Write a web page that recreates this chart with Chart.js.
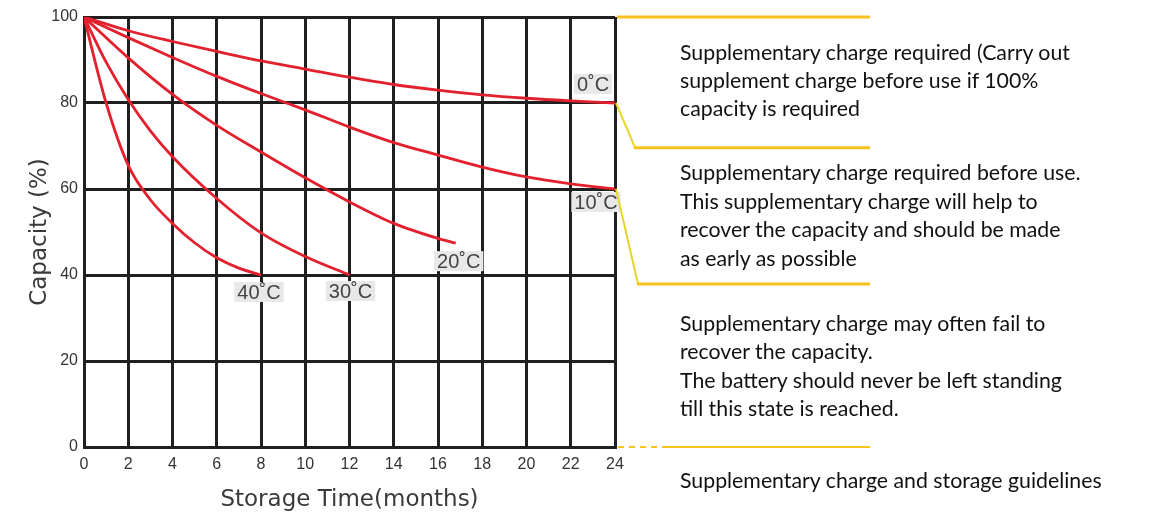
<!DOCTYPE html>
<html>
<head>
<meta charset="utf-8">
<script src="https://cdn.jsdelivr.net/npm/chart.js@4/dist/chart.umd.min.js"></script>
<style>
  body { margin: 0; background: #fff; }
  #wrap { position: relative; width: 1153px; height: 519px; }
  .note {
    position: absolute;
    left: 680px;
    font-family: Lato, "Open Sans", sans-serif;
    font-size: 21.3px;
    color: #111;
    white-space: nowrap;
  }
</style>
</head>
<body>
<div id="wrap">
  <canvas id="capChart" width="1153" height="519"></canvas>
  <div class="note" style="top:38px; line-height:28px;">Supplementary charge required (Carry out<br>supplement charge before use if 100%<br>capacity is required</div>
  <div class="note" style="top:158px; line-height:28.6px;">Supplementary charge required before use.<br>This supplementary charge will help to<br>recover the capacity and should be made<br>as early as possible</div>
  <div class="note" style="top:309px; line-height:28.3px;">Supplementary charge may often fail to<br>recover the capacity.<br>The battery should never be left standing<br>till this state is reached.</div>
  <div class="note" style="top:466px; line-height:28px;">Supplementary charge and storage guidelines</div>
</div>
<script>
// storage time (months) and remaining capacity (%) per temperature
const tempLabels = ["0˚C", "10˚C", "20˚C", "30˚C", "40˚C"];
const months = [0, 2, 4, 6, 8, 10, 12, 14, 16, 18, 20, 22, 24];
const cap0C = [100, 96.8, 94.3, 92, 89.8, 87.9, 86, 84.3, 83, 81.9, 81.1, 80.5, 80];
const cap10C = [100, 95.2, 90.6, 86.2, 82.2, 78.4, 74.4, 70.8, 67.9, 65.1, 62.8, 61.2, 60];
const months20C = [0, 2, 4, 6, 8, 10, 12, 14, 16, 16.8];
const cap20C = [100, 90.5, 82, 74.8, 68.6, 62.6, 57, 52, 48.5, 47.4];
const months30C = [0, 1, 2, 3, 4, 6, 8, 10, 12];
const cap30C = [100, 89.5, 80.8, 73.5, 67.5, 57.8, 49.8, 44.3, 40];
const months40C = [0, 1, 2, 3, 4, 5, 6, 7, 8];
const cap40C = [100, 80, 65.5, 57.5, 52, 47.5, 44, 41.6, 40];

const xTicks = [0, 2, 4, 6, 8, 10, 12, 14, 16, 18, 20, 22, 24];
const yTicks = [0, 20, 40, 60, 80, 100];

const gridColor = "#1f1f1f";
const curveColor = "#e3212e";
const yellow = "#f6c21e";

function toPoints(xs, ys) {
  return xs.map((x, i) => ({ x: x, y: ys[i] }));
}

const seriesList = [
  toPoints(months, cap0C),
  toPoints(months, cap10C),
  toPoints(months20C, cap20C),
  toPoints(months30C, cap30C),
  toPoints(months40C, cap40C),
];

// label offsets from the last point of each curve (px)
const labelOffsets = [
  [-22, -19],
  [-19, 13],
  [3, 18],
  [1, 16],
  [-2, 17],
];

const curveLabels = {
  id: "curveLabels",
  afterDatasetsDraw(chart) {
    const ctx = chart.ctx;
    const xs = chart.scales.x;
    const ys = chart.scales.y;
    ctx.save();
    ctx.font = "20px 'Liberation Sans', Arial, sans-serif";
    ctx.textAlign = "center";
    ctx.textBaseline = "middle";
    seriesList.forEach((pts, i) => {
      const last = pts[pts.length - 1];
      const cx = xs.getPixelForValue(last.x) + labelOffsets[i][0];
      const cy = ys.getPixelForValue(last.y) + labelOffsets[i][1];
      const w = ctx.measureText(tempLabels[i]).width + 6;
      ctx.fillStyle = "#e8e8e8";
      ctx.fillRect(cx - w / 2, cy - 10, w, 20);
      ctx.fillStyle = "#444";
      ctx.fillText(tempLabels[i], cx, cy + 1);
    });
    ctx.restore();
  },
};

// yellow bracket lines on the right of the plot
const guideLines = {
  id: "guideLines",
  afterDraw(chart) {
    const ctx = chart.ctx;
    const xs = chart.scales.x;
    const ys = chart.scales.y;
    const x0 = xs.getPixelForValue(24);
    const x1 = x0 + 255;
    ctx.save();
    ctx.strokeStyle = yellow;
    ctx.lineWidth = 3;
    ctx.beginPath();
    ctx.moveTo(x0 + 2, ys.getPixelForValue(100));
    ctx.lineTo(x1, ys.getPixelForValue(100));
    ctx.stroke();

    const brackets = [
      { from: 80, to: 69.6, dx: 20 },
      { from: 60, to: 37.9, dx: 23 },
    ];
    brackets.forEach((b) => {
      ctx.strokeStyle = "#e6d62c";
      ctx.lineWidth = 2;
      ctx.beginPath();
      ctx.moveTo(x0 + 1, ys.getPixelForValue(b.from));
      ctx.lineTo(x0 + b.dx, ys.getPixelForValue(b.to));
      ctx.stroke();
      ctx.strokeStyle = yellow;
      ctx.lineWidth = 3;
      ctx.beginPath();
      ctx.moveTo(x0 + b.dx - 1, ys.getPixelForValue(b.to));
      ctx.lineTo(x1, ys.getPixelForValue(b.to));
      ctx.stroke();
    });

    const yb = ys.getPixelForValue(0);
    ctx.lineWidth = 2;
    ctx.setLineDash([6, 5]);
    ctx.beginPath();
    ctx.moveTo(x0 + 3, yb);
    ctx.lineTo(x0 + 50, yb);
    ctx.stroke();
    ctx.setLineDash([]);
    ctx.beginPath();
    ctx.moveTo(x0 + 50, yb);
    ctx.lineTo(x1, yb);
    ctx.stroke();
    ctx.restore();
  },
};

new Chart(document.getElementById("capChart"), {
  type: "line",
  data: {
    datasets: seriesList.map((pts, i) => ({
      label: tempLabels[i],
      data: pts,
      borderColor: curveColor,
      borderWidth: 2.8,
      pointRadius: 0,
      fill: false,
      cubicInterpolationMode: "monotone",
    })),
  },
  options: {
    responsive: false,
    animation: false,
    layout: {
      padding: { left: 0, top: 17, right: 538, bottom: 0 },
    },
    plugins: {
      legend: { display: false },
      tooltip: { enabled: false },
    },
    scales: {
      x: {
        type: "linear",
        min: 0,
        max: 24,
        afterBuildTicks: (s) => {
          s.ticks = xTicks.map((v) => ({ value: v }));
        },
        afterFit: (s) => {
          s.height = 72;
        },
        ticks: {
          color: "#333",
          padding: 8,
          maxRotation: 0,
          font: { family: "'Liberation Sans', Arial, sans-serif", size: 16 },
        },
        grid: { color: gridColor, lineWidth: 3, drawTicks: false },
        border: { color: gridColor, width: 3 },
        title: {
          display: true,
          text: "Storage Time(months)",
          color: "#3a3a3a",
          font: { family: "'DejaVu Sans', sans-serif", size: 23 },
          padding: { top: 0, bottom: 5 },
        },
      },
      y: {
        min: 0,
        max: 100,
        afterBuildTicks: (s) => {
          s.ticks = yTicks.map((v) => ({ value: v }));
        },
        afterFit: (s) => {
          s.width = 84;
        },
        ticks: {
          color: "#333",
          padding: 6,
          font: { family: "'Liberation Sans', Arial, sans-serif", size: 16 },
        },
        grid: { color: gridColor, lineWidth: 3, drawTicks: false },
        border: { color: gridColor, width: 3 },
        title: {
          display: true,
          text: "Capacity (%)",
          color: "#3a3a3a",
          font: { family: "'DejaVu Sans', sans-serif", size: 23 },
          padding: { top: 26, bottom: 0 },
        },
      },
    },
  },
  plugins: [curveLabels, guideLines],
});
</script>
</body>
</html>
